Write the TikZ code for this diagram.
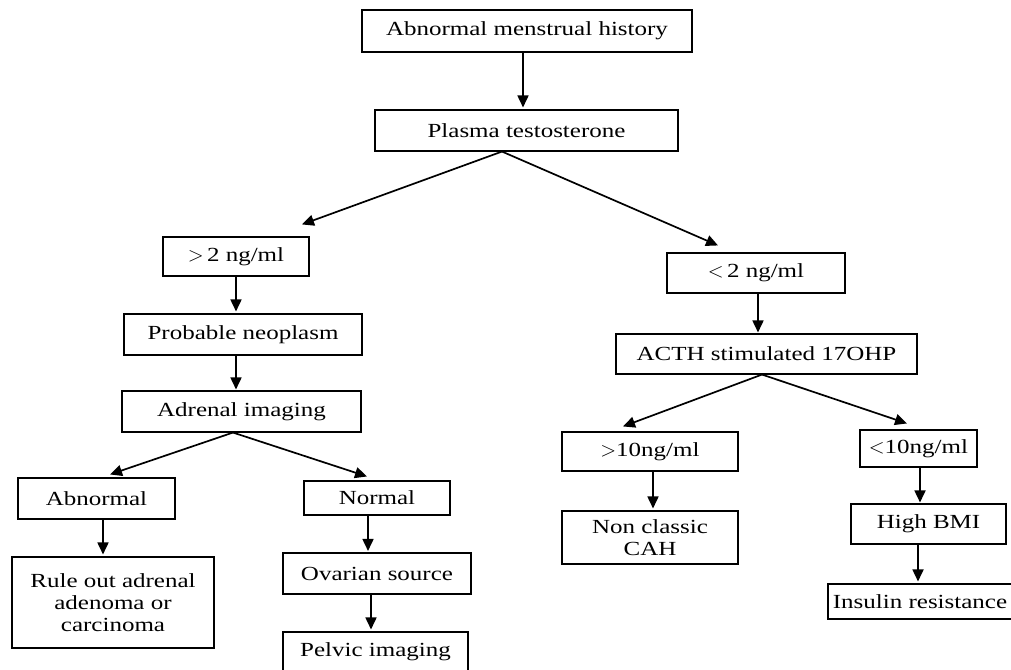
\documentclass[tikz,border=0pt]{standalone}
\usepackage{fontspec}
\setmainfont{Liberation Serif}[FakeStretch=1.25]
\usetikzlibrary{arrows.meta}
\begin{document}
\begin{tikzpicture}[x=1pt,y=-1pt,
  box/.style={draw, line width=1.1pt, inner sep=0pt, align=center,
    font=\fontsize{20}{22}\selectfont},
  arr/.style={line width=1.7pt, -{Triangle[length=12pt,width=11pt]}}]
\useasboundingbox (0,0) rectangle (1011,669);
\node[box, minimum width=330pt, minimum height=42pt] (top) at (527,31) {Abnormal menstrual history};
\node[box, minimum width=303pt, minimum height=41pt] (plasma) at (526.5,130.5) {Plasma testosterone};
\node[box, minimum width=146pt, minimum height=39pt] (gt2) at (236,256.5) {$>$\,2 ng/ml};
\node[box, minimum width=178pt, minimum height=40pt] (lt2) at (756,273) {$<$\,2 ng/ml};
\node[box, minimum width=238pt, minimum height=41pt] (neo) at (243,334.5) {Probable neoplasm};
\node[box, minimum width=301pt, minimum height=40pt] (acth) at (766.5,354) {ACTH stimulated 17OHP};
\node[box, minimum width=239pt, minimum height=41pt] (adrenal) at (241.5,411.5) {Adrenal imaging};
\node[box, minimum width=157pt, minimum height=41pt] (abn) at (96.5,498.5) {Abnormal};
\node[box, minimum width=146pt, minimum height=34pt] (normal) at (377,498) {Normal};
\node[box, minimum width=176pt, minimum height=39pt] (gt10) at (650,451.5) {$>$10ng/ml};
\node[box, minimum width=117pt, minimum height=37pt] (lt10) at (918.5,448.5) {$<$10ng/ml};
\node[box, minimum width=202pt, minimum height=91pt] (rule) at (113,602.5) {Rule out adrenal\\adenoma or\\carcinoma};
\node[box, minimum width=188pt, minimum height=41pt] (ovarian) at (377,573.5) {Ovarian source};
\node[box, minimum width=185pt, minimum height=40pt] (pelvic) at (375.5,652) {Pelvic imaging};
\node[box, minimum width=176pt, minimum height=53pt] (ncah) at (650,537.5) {Non classic\\CAH};
\node[box, minimum width=155pt, minimum height=40pt] (bmi) at (928.5,524) {High BMI};
\node[box, minimum width=184pt, minimum height=35pt] (insulin) at (920,601.5) {Insulin resistance};

\draw[arr] ([xshift=-4pt]top.south) -- ([xshift=-3.5pt,yshift=2pt]plasma.north);
\draw[arr] (gt2.south) -- ([xshift=-7pt,yshift=2pt]neo.north);
\draw[arr] ([xshift=-7pt]neo.south) -- ([xshift=-5.5pt,yshift=1pt]adrenal.north);
\draw[arr] ([xshift=2pt]lt2.south) -- ([xshift=-8.5pt,yshift=1pt]acth.north);
\draw[arr] ([xshift=3pt]gt10.south) -- ([xshift=3pt,yshift=2pt]ncah.north);
\draw[arr] ([xshift=1.5pt]lt10.south) -- ([xshift=-8.5pt,yshift=1pt]bmi.north);
\draw[arr] ([xshift=-10.5pt]bmi.south) -- ([xshift=-2pt,yshift=2pt]insulin.north);
\draw[arr] ([xshift=6.5pt]abn.south) -- ([xshift=-10pt,yshift=2pt]rule.north);
\draw[arr] ([xshift=-9pt]normal.south) -- ([xshift=-9pt,yshift=1.5pt]ovarian.north);
\draw[arr] ([xshift=-6pt]ovarian.south) -- ([xshift=-4.5pt,yshift=2pt]pelvic.north);

\draw[arr] ([xshift=-24.5pt]plasma.south) -- ([xshift=66pt,yshift=12pt]gt2.north);
\draw[arr] ([xshift=-24.5pt]plasma.south) -- ([xshift=-38pt,yshift=7pt]lt2.north);
\draw[arr] ([xshift=-8.5pt]adrenal.south) -- ([xshift=13.5pt,yshift=3pt]abn.north);
\draw[arr] ([xshift=-8.5pt]adrenal.south) -- ([xshift=-10pt,yshift=4pt]normal.north);
\draw[arr] ([xshift=-4.5pt]acth.south) -- ([xshift=-27pt,yshift=5pt]gt10.north);
\draw[arr] ([xshift=-4.5pt]acth.south) -- ([xshift=-11.5pt,yshift=6pt]lt10.north);
\end{tikzpicture}
\end{document}
